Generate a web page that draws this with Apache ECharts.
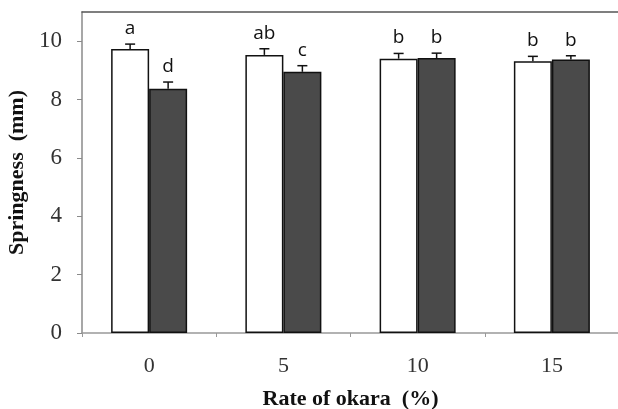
<!DOCTYPE html>
<html>
<head>
<meta charset="utf-8">
<script src="https://cdn.jsdelivr.net/npm/echarts@6/dist/echarts.min.js"></script>
<style>
  html, body { margin: 0; padding: 0; background: #fff; }
  #chart { width: 618px; height: 409px; }
</style>
</head>
<body>
<div id="chart"></div>
<script>
// okara rate (%) on x
const categories = ['0', '5', '10', '15'];
// white bars / dark bars, mean springness (mm) and error
const whiteVals = [9.73, 9.53, 9.40, 9.31];
const whiteErr  = [0.17, 0.21, 0.18, 0.17];
const darkVals  = [8.37, 8.95, 9.42, 9.37];
const darkErr   = [0.23, 0.21, 0.17, 0.13];
// significance letters
const whiteLetters = ['a', 'ab', 'b', 'b'];
const darkLetters  = ['d', 'c', 'b', 'b'];
const yTicks = [0, 2, 4, 6, 8, 10];

const barW = 38;
const serif = '"Liberation Serif", "Times New Roman", serif';

// error bar + letter on top of each bar
function errSeries(vals, errs, letters, side) {
  return {
    type: 'custom',
    z: 10,
    data: vals.map((v, i) => [i, v, errs[i]]),
    renderItem: (params, api) => {
      const i = api.value(0), v = api.value(1), e = api.value(2);
      const top  = api.coord([i, v + e]);
      const base = api.coord([i, v]);
      const x = top[0] + side * barW / 2;
      return {
        type: 'group',
        children: [
          { type: 'line', shape: { x1: x, y1: base[1], x2: x, y2: top[1] },
            style: { stroke: '#111', lineWidth: 1.5 } },
          { type: 'line', shape: { x1: x - 5, y1: top[1], x2: x + 5, y2: top[1] },
            style: { stroke: '#111', lineWidth: 1.5 } },
          { type: 'text', x: x, y: top[1] - 6,
            style: { text: letters[params.dataIndex], fill: '#111',
                     font: '19px "Open Sans", sans-serif',
                     align: 'center', verticalAlign: 'bottom' } }
        ]
      };
    }
  };
}

const chart = echarts.init(document.getElementById('chart'));
chart.setOption({
  animation: false,
  grid: { left: 82, top: 12, width: 537, height: 321, outerBoundsMode: 'none', containLabel: false },
  xAxis: [{
    type: 'category',
    data: categories,
    name: 'Rate of okara  (%)',
    nameLocation: 'middle',
    nameGap: 55,
    nameTextStyle: { fontFamily: serif, fontWeight: 'bold', fontSize: 22, color: '#111' },
    axisLine: { lineStyle: { color: '#999', width: 1.5 } },
    axisTick: { show: true, inside: false, length: 4, lineStyle: { color: '#999' } },
    axisLabel: { fontFamily: serif, fontSize: 22, color: '#333', margin: 22 }
  }, {
    type: 'category',
    data: categories,
    position: 'top',
    axisLine: { lineStyle: { color: '#555', width: 1.5 } },
    axisTick: { show: false },
    axisLabel: { show: false }
  }],
  yAxis: {
    type: 'value',
    min: 0, max: 11, interval: 2,
    name: 'Springness  (mm)',
    nameLocation: 'middle',
    nameGap: 53,
    nameTextStyle: { fontFamily: serif, fontWeight: 'bold', fontSize: 22, color: '#111' },
    axisLine: { show: true, lineStyle: { color: '#8a8a8a', width: 1.5 } },
    axisTick: { show: true, length: 5, customValues: yTicks, lineStyle: { color: '#8a8a8a' } },
    axisLabel: { fontFamily: serif, fontSize: 23, color: '#333', margin: 20, customValues: yTicks },
    splitLine: { show: false }
  },
  series: [
    { type: 'bar', data: whiteVals, barWidth: barW, barGap: '0%',
      itemStyle: { color: '#fff', borderColor: '#111', borderWidth: 1.5 } },
    { type: 'bar', data: darkVals, barWidth: barW, barGap: '0%',
      itemStyle: { color: '#4a4a4a', borderColor: '#111', borderWidth: 1.5 } },
    errSeries(whiteVals, whiteErr, whiteLetters, -1),
    errSeries(darkVals, darkErr, darkLetters, 1)
  ]
});
</script>
</body>
</html>
